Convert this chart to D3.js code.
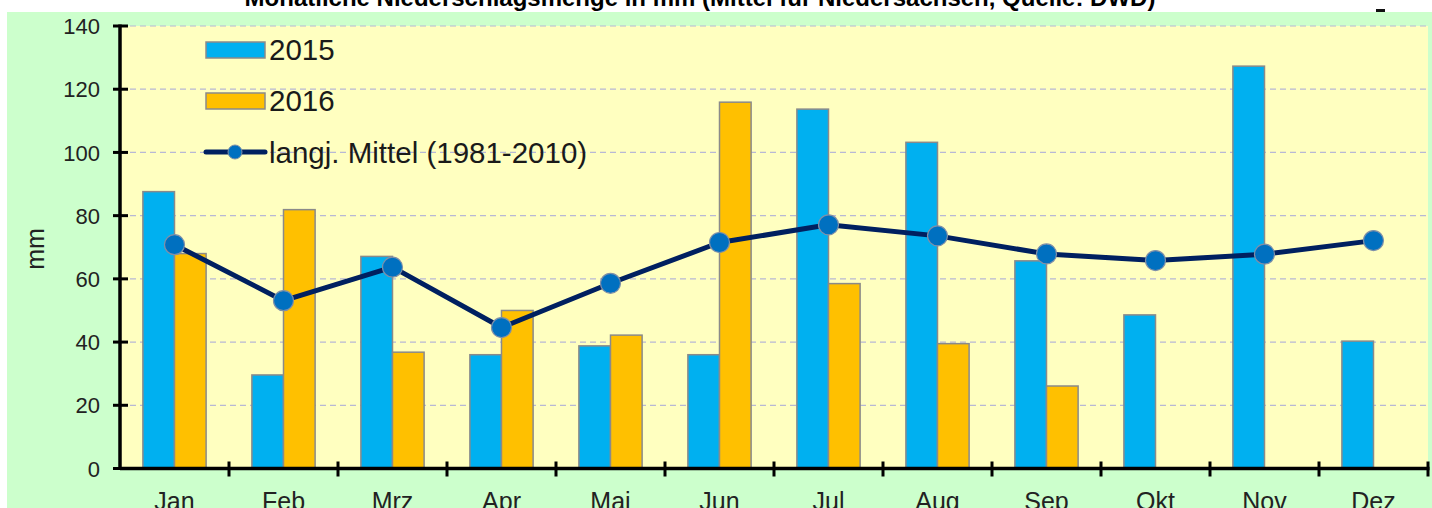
<!DOCTYPE html>
<html><head><meta charset="utf-8">
<script src="https://cdn.jsdelivr.net/npm/d3@7"></script>
<style>html,body{margin:0;padding:0;background:#fff;overflow:hidden}svg{display:block}</style>
</head><body>
<svg id="c" width="1432" height="508"></svg>
<script>
const months = ["Jan","Feb","Mrz","Apr","Mai","Jun","Jul","Aug","Sep","Okt","Nov","Dez"];
const values2015 = [87.6, 29.6, 67.1, 36.0, 38.8, 36.0, 113.7, 103.2, 65.7, 48.6, 127.3, 40.3];
const values2016 = [68.0, 81.9, 36.8, 50.0, 42.2, 115.9, 58.5, 39.5, 26.1, null, null, null];
const mittel = [70.8, 53.1, 63.7, 44.6, 58.6, 71.5, 77.1, 73.6, 67.9, 65.8, 67.8, 72.1];
const yTicks = [0, 20, 40, 60, 80, 100, 120, 140];
const seriesNames = ["2015", "2016"];
const lineName = "langj. Mittel (1981-2010)";
const title = "Monatliche Niederschlagsmenge in mm (Mittel für Niedersachsen, Quelle: DWD)";

const svg = d3.select("#c");
const font = "'Liberation Sans', Arial, sans-serif";
const L = 120, R = 1428, T = 26, B = 468.5;

// backgrounds
svg.append("rect").attr("x", 7).attr("y", 12).attr("width", 1425).attr("height", 496).attr("fill", "#ccffcc");
svg.append("rect").attr("x", L).attr("y", T).attr("width", R - L).attr("height", B - T).attr("fill", "#ffffc0");

// title (clipped at top)
svg.append("text").attr("x", 700).attr("y", 6).attr("text-anchor", "middle")
  .attr("font-family", font).attr("font-weight", "bold").attr("font-size", 24).attr("fill", "#000")
  .text(title);
svg.append("rect").attr("x", 1376).attr("y", 9).attr("width", 9).attr("height", 3).attr("fill", "#111");

const y = d3.scaleLinear().domain([0, 140]).range([B, T]);
const x0 = d3.scaleBand().domain(months).range([L, R]).paddingInner(0.42).paddingOuter(0.21);
const x1 = d3.scaleBand().domain(seriesNames).range([0, x0.bandwidth()]);
const xb = d3.scaleBand().domain(months).range([L, R]);
const colors = {"2015": "#00b0f0", "2016": "#ffc000"};

// grid
svg.append("g").selectAll("line").data(yTicks.filter(d => d > 0)).join("line")
  .attr("x1", L).attr("x2", R).attr("y1", d => y(d)).attr("y2", d => y(d))
  .attr("stroke", "#b8b8d4").attr("stroke-width", 1.2).attr("stroke-dasharray", "6,4");

// bars
const data = months.map((m, i) => ({m, vals: [{s: "2015", v: values2015[i]}, {s: "2016", v: values2016[i]}]}));
svg.append("g").selectAll("g").data(data).join("g")
  .attr("transform", d => `translate(${x0(d.m)},0)`)
  .selectAll("rect").data(d => d.vals.filter(e => e.v != null)).join("rect")
  .attr("x", d => x1(d.s)).attr("width", x1.bandwidth())
  .attr("y", d => y(d.v)).attr("height", d => y(0) - y(d.v))
  .attr("fill", d => colors[d.s]).attr("stroke", "#8a8a8a").attr("stroke-width", 1.5);

// axes
const yAxis = d3.axisLeft(y).tickValues(yTicks).tickSize(0).tickPadding(20);
const gy = svg.append("g").attr("transform", `translate(${L},0)`).call(yAxis);
gy.select(".domain").remove();
gy.selectAll("text").attr("font-family", font).attr("font-size", 22).attr("fill", "#222").attr("dy", "0.35em");
svg.append("g").selectAll("line").data(yTicks).join("line")
  .attr("x1", L - 7).attr("x2", L + 8).attr("y1", d => y(d)).attr("y2", d => y(d))
  .attr("stroke", "#000").attr("stroke-width", 3);
svg.append("line").attr("x1", L).attr("x2", L).attr("y1", T - 1.5).attr("y2", B + 1.5).attr("stroke", "#000").attr("stroke-width", 3.5);

const xAxis = d3.axisBottom(xb).tickSize(0).tickPadding(24);
const gx = svg.append("g").attr("transform", `translate(0,${B})`).call(xAxis);
gx.select(".domain").remove();
gx.selectAll("text").attr("font-family", font).attr("font-size", 25).attr("fill", "#222").attr("dy", "0.71em");
svg.append("line").attr("x1", L).attr("x2", R + 1.5).attr("y1", B).attr("y2", B).attr("stroke", "#000").attr("stroke-width", 3.5);
svg.append("g").selectAll("line").data(months).join("line")
  .attr("x1", d => xb(d) + xb.bandwidth()).attr("x2", d => xb(d) + xb.bandwidth())
  .attr("y1", B - 7).attr("y2", B + 8).attr("stroke", "#000").attr("stroke-width", 3);

// y label
svg.append("text").attr("transform", "translate(44,249) rotate(-90)").attr("text-anchor", "middle")
  .attr("font-family", font).attr("font-size", 25).attr("fill", "#222").text("mm");

// line
const cx = m => x0(m) + x0.bandwidth() / 2;
const line = d3.line().x((d, i) => cx(months[i])).y(d => y(d));
svg.append("path").datum(mittel).attr("d", line).attr("fill", "none")
  .attr("stroke", "#002060").attr("stroke-width", 5).attr("stroke-linejoin", "round");
svg.append("g").selectAll("circle").data(mittel).join("circle")
  .attr("cx", (d, i) => cx(months[i])).attr("cy", d => y(d)).attr("r", 10)
  .attr("fill", "#0070c0").attr("stroke", "#7f8fa8").attr("stroke-width", 1.2);

// legend
const lg = svg.append("g").attr("font-family", font).attr("font-size", 29.5).attr("fill", "#1a1a1a");
seriesNames.forEach((s, i) => {
  const yy = 42 + i * 51;
  lg.append("rect").attr("x", 206).attr("y", yy).attr("width", 59).attr("height", 16)
    .attr("fill", colors[s]).attr("stroke", "#8a8a8a").attr("stroke-width", 1.5);
  lg.append("text").attr("x", 269).attr("y", yy + 18).text(s);
});
lg.append("line").attr("x1", 206).attr("x2", 265).attr("y1", 152).attr("y2", 152)
  .attr("stroke", "#002060").attr("stroke-width", 5).attr("stroke-linecap", "round");
lg.append("circle").attr("cx", 235).attr("cy", 152).attr("r", 7).attr("fill", "#0070c0").attr("stroke", "#7f8fa8").attr("stroke-width", 1);
lg.append("text").attr("x", 269).attr("y", 163).text(lineName);
</script>
</body></html>
